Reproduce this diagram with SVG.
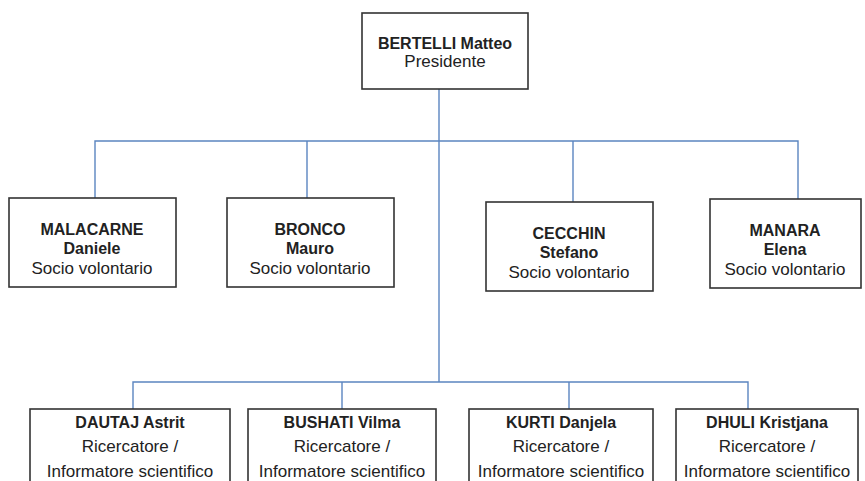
<svg xmlns="http://www.w3.org/2000/svg" width="865" height="481" viewBox="0 0 865 481">
<style>
.box{fill:#fff;stroke:#333;stroke-width:1.6}
.c{fill:none;stroke:#5b85c0;stroke-width:1.4}
text{font-family:"Liberation Sans",Arial,sans-serif;font-size:17px;fill:#222;text-anchor:middle}
.b{font-weight:bold;font-size:16px}
</style>
<rect width="865" height="481" fill="#fff"/>
<g id="connectors">
<path class="c" d="M439,89 V382"/>
<path class="c" d="M95,198 V141 H798 V199"/>
<path class="c" d="M307,141 V198"/>
<path class="c" d="M573,141 V202"/>
<path class="c" d="M133,409 V382 H748 V409"/>
<path class="c" d="M342,382 V409"/>
<path class="c" d="M569,382 V409"/>
</g>
<g id="bertelli">
<rect class="box" x="362" y="13" width="166" height="76"/>
<text x="445" y="49" class="b">BERTELLI Matteo</text>
<text x="445" y="67">Presidente</text>
</g>
<g id="malacarne">
<rect class="box" x="9" y="198" width="167" height="89"/>
<text x="92" y="235" class="b">MALACARNE</text>
<text x="92" y="254" class="b">Daniele</text>
<text x="92" y="274">Socio volontario</text>
</g>
<g id="bronco">
<rect class="box" x="227" y="198" width="167" height="89"/>
<text x="310" y="235" class="b">BRONCO</text>
<text x="310" y="254" class="b">Mauro</text>
<text x="310" y="274">Socio volontario</text>
</g>
<g id="cecchin">
<rect class="box" x="486" y="202" width="167" height="89"/>
<text x="569" y="239" class="b">CECCHIN</text>
<text x="569" y="258" class="b">Stefano</text>
<text x="569" y="278">Socio volontario</text>
</g>
<g id="manara">
<rect class="box" x="710" y="199" width="151" height="89"/>
<text x="785" y="236" class="b">MANARA</text>
<text x="785" y="255" class="b">Elena</text>
<text x="785" y="275">Socio volontario</text>
</g>
<g id="dautaj">
<rect class="box" x="30" y="409" width="200" height="90"/>
<text x="130" y="428" class="b">DAUTAJ Astrit</text>
<text x="130" y="452">Ricercatore /</text>
<text x="130" y="477">Informatore scientifico</text>
</g>
<g id="bushati">
<rect class="box" x="248" y="409" width="188" height="90"/>
<text x="342" y="428" class="b">BUSHATI Vilma</text>
<text x="342" y="452">Ricercatore /</text>
<text x="342" y="477">Informatore scientifico</text>
</g>
<g id="kurti">
<rect class="box" x="469" y="409" width="184" height="90"/>
<text x="561" y="428" class="b">KURTI Danjela</text>
<text x="561" y="452">Ricercatore /</text>
<text x="561" y="477">Informatore scientifico</text>
</g>
<g id="dhuli">
<rect class="box" x="676" y="409" width="182" height="90"/>
<text x="767" y="428" class="b">DHULI Kristjana</text>
<text x="767" y="452">Ricercatore /</text>
<text x="767" y="477">Informatore scientifico</text>
</g>
</svg>
